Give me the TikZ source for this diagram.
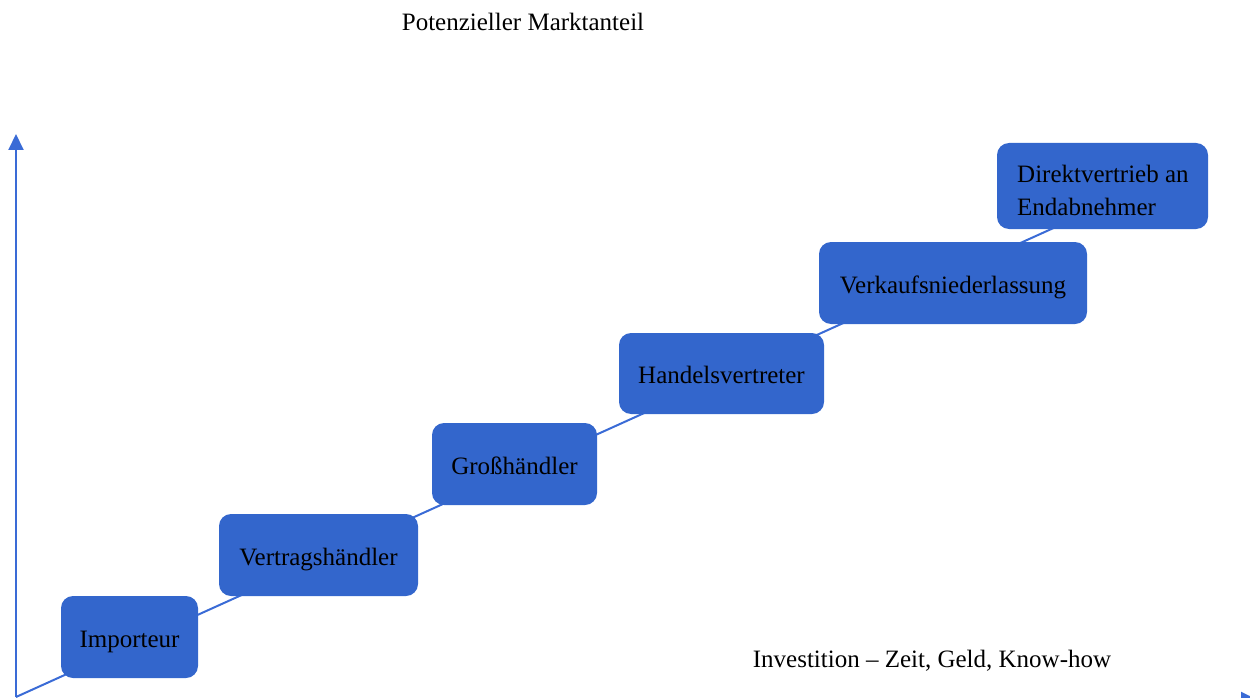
\documentclass[tikz,border=0pt]{standalone}
\usepackage{fontspec}
\setmainfont{Liberation Serif}
\usetikzlibrary{arrows.meta}
\definecolor{boxblue}{HTML}{3366CC}
\definecolor{lineblue}{HTML}{3A6BD6}
\tikzset{
  stepbox/.style={rectangle, rounded corners=12pt, fill=boxblue, draw=none,
    text=black, font=\fontsize{25}{33.4}\selectfont, inner sep=0pt,
    text height=24pt, text depth=4pt},
  boxtext/.style={text=black, font=\fontsize{25}{33.4}\selectfont, inner sep=0pt, align=left},
  axisline/.style={draw=lineblue, line width=2pt, -{Triangle[length=16pt,width=15pt]}},
  diagline/.style={draw=lineblue, line width=2pt},
  plainlabel/.style={font=\fontsize{25}{30}\selectfont, text=black, inner sep=0pt}
}
\begin{document}
\begin{tikzpicture}[x=1pt,y=-1pt]
\useasboundingbox (0,0) rectangle (1250,698);
\clip (0,0) rectangle (1250,698);
\coordinate (origin) at (16,697);
\coordinate (ytip) at (16,134);
\coordinate (xorigin) at (16,699.5);
\coordinate (xtip) at (1257,699.5);
\coordinate (diagend) at (1100,207);
\draw[axisline] (origin) -- (ytip);
\draw[axisline] (xorigin) -- (xtip);
\draw[diagline] (origin) -- (diagend);
\node[stepbox, minimum width=137pt, minimum height=82pt] (imp) at (129.5,637) {Importeur};
\node[stepbox, minimum width=199pt, minimum height=82pt] (vert) at (318.5,555) {Vertragshändler};
\node[stepbox, minimum width=165pt, minimum height=82pt] (gross) at (514.5,464) {Großhändler};
\node[stepbox, minimum width=205pt, minimum height=81pt] (hand) at (721.5,373.5) {Handelsvertreter};
\node[stepbox, minimum width=268pt, minimum height=82pt] (verk) at (953,283) {Verkaufsniederlassung};
\node[stepbox, minimum width=211pt, minimum height=86pt, text height=0pt, text depth=0pt] (dir) at (1102.5,186) {};
\node[boxtext, anchor=base west] (dirtext) at (1017,215.7) {Direktvertrieb an\\Endabnehmer};
\node[plainlabel] (ylabel) at (523,22) {Potenzieller Marktanteil};
\node[plainlabel] (xlabel) at (932,661) {Investition – Zeit, Geld, Know-how};
\end{tikzpicture}
\end{document}
